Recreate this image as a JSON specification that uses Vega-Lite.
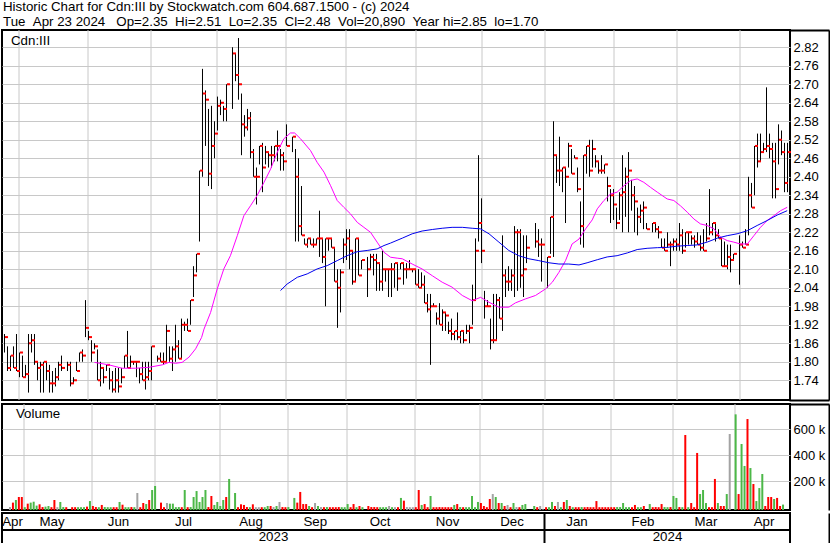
{
  "$schema": "https://vega.github.io/schema/vega-lite/v6.json",
  "background": "white",
  "padding": 0,
  "spacing": 0,
  "title": {
    "text": ["Historic Chart for Cdn:III by Stockwatch.com 604.687.1500 - (c) 2024", "Tue\u00a0\u00a0Apr 23 2024\u00a0\u00a0\u00a0Op=2.35\u00a0\u00a0Hi=2.51\u00a0\u00a0Lo=2.35\u00a0\u00a0Cl=2.48\u00a0\u00a0Vol=20,890\u00a0\u00a0Year hi=2.85\u00a0\u00a0lo=1.70"],
    "anchor": "start",
    "frame": "bounds",
    "font": "Liberation Sans",
    "fontSize": 13.3,
    "fontWeight": "normal",
    "color": "black",
    "lineHeight": 14.5,
    "offset": 0,
    "dx": 3
  },
  "config": {
    "font": "Liberation Sans",
    "view": {"stroke": "black", "strokeWidth": 2},
    "axis": {"labelFont": "Liberation Sans", "labelFontSize": 13.3, "labelColor": "black", "gridColor": "#c8c8c8", "gridOpacity": 1, "ticks": false, "tickSize": 0, "domain": false, "labelOverlap": false, "labelSeparation": 0},
    "text": {"font": "Liberation Sans", "fontSize": 13.3, "color": "black"},
    "concat": {"spacing": 0}
  },
  "resolve": {"scale": {"color": "independent"}},
  "datasets": {
    "px": [
      {"w":0,"h":1.89,"l":1.83,"c":1.88,"v":2000,"k":"n"},
      {"w":1,"h":1.85,"l":1.77,"c":1.78,"v":36000,"k":"d"},
      {"w":2,"h":1.82,"l":1.77,"c":1.82,"v":56000,"k":"u"},
      {"w":3,"h":1.85,"l":1.78,"c":1.78,"v":79000,"k":"d"},
      {"w":4,"h":1.89,"l":1.77,"c":1.77,"v":79000,"k":"d"},
      {"w":5,"h":1.83,"l":1.75,"c":1.83,"v":1000,"k":"u"},
      {"w":6,"h":1.82,"l":1.75,"c":1.75,"v":28000,"k":"d"},
      {"w":7,"h":1.79,"l":1.75,"c":1.76,"v":36000,"k":"u"},
      {"w":8,"h":1.89,"l":1.70,"c":1.86,"v":43000,"k":"u"},
      {"w":9,"h":1.89,"l":1.83,"c":1.87,"v":13000,"k":"u"},
      {"w":10,"h":1.89,"l":1.79,"c":1.80,"v":23000,"k":"d"},
      {"w":11,"h":1.80,"l":1.74,"c":1.78,"v":2000,"k":"d"},
      {"w":12,"h":1.80,"l":1.70,"c":1.79,"v":5000,"k":"u"},
      {"w":13,"h":1.80,"l":1.70,"c":1.80,"v":10000,"k":"u"},
      {"w":14,"h":1.80,"l":1.74,"c":1.77,"v":1000,"k":"d"},
      {"w":15,"h":1.79,"l":1.70,"c":1.73,"v":56000,"k":"d"},
      {"w":16,"h":1.77,"l":1.70,"c":1.73,"v":1000,"k":"n"},
      {"w":17,"h":1.78,"l":1.72,"c":1.75,"v":41000,"k":"u"},
      {"w":18,"h":1.80,"l":1.74,"c":1.79,"v":2000,"k":"u"},
      {"w":19,"h":1.82,"l":1.77,"c":1.78,"v":1000,"k":"d"},
      {"w":21,"h":1.80,"l":1.77,"c":1.79,"v":1000,"k":"d"},
      {"w":22,"h":1.80,"l":1.72,"c":1.73,"v":1000,"k":"d"},
      {"w":23,"h":1.75,"l":1.73,"c":1.74,"v":1000,"k":"u"},
      {"w":24,"h":1.80,"l":1.77,"c":1.77,"v":1000,"k":"u"},
      {"w":25,"h":1.83,"l":1.80,"c":1.83,"v":1000,"k":"u"},
      {"w":26,"h":1.84,"l":1.80,"c":1.82,"v":5000,"k":"d"},
      {"w":27,"h":2.00,"l":1.88,"c":1.91,"v":48000,"k":"u"},
      {"w":28,"h":1.90,"l":1.87,"c":1.88,"v":10000,"k":"d"},
      {"w":29,"h":1.87,"l":1.80,"c":1.83,"v":2000,"k":"d"},
      {"w":30,"h":1.86,"l":1.84,"c":1.85,"v":1000,"k":"u"},
      {"w":31,"h":1.84,"l":1.74,"c":1.74,"v":18000,"k":"d"},
      {"w":32,"h":1.80,"l":1.72,"c":1.78,"v":2000,"k":"u"},
      {"w":33,"h":1.78,"l":1.73,"c":1.75,"v":1000,"k":"u"},
      {"w":34,"h":1.79,"l":1.77,"c":1.79,"v":1000,"k":"u"},
      {"w":35,"h":1.78,"l":1.71,"c":1.74,"v":1000,"k":"d"},
      {"w":36,"h":1.77,"l":1.70,"c":1.71,"v":1000,"k":"d"},
      {"w":37,"h":1.78,"l":1.70,"c":1.74,"v":41000,"k":"u"},
      {"w":38,"h":1.78,"l":1.70,"c":1.72,"v":20000,"k":"d"},
      {"w":39,"h":1.78,"l":1.73,"c":1.75,"v":1000,"k":"u"},
      {"w":40,"h":1.82,"l":1.78,"c":1.82,"v":1000,"k":"u"},
      {"w":41,"h":1.90,"l":1.78,"c":1.78,"v":2000,"k":"d"},
      {"w":42,"h":1.82,"l":1.78,"c":1.80,"v":1000,"k":"u"},
      {"w":43,"h":1.80,"l":1.79,"c":1.80,"v":110000,"k":"n"},
      {"w":44,"h":1.80,"l":1.75,"c":1.80,"v":1000,"k":"d"},
      {"w":45,"h":1.78,"l":1.73,"c":1.76,"v":33000,"k":"d"},
      {"w":46,"h":1.80,"l":1.74,"c":1.74,"v":25000,"k":"u"},
      {"w":47,"h":1.80,"l":1.71,"c":1.75,"v":56000,"k":"d"},
      {"w":48,"h":1.80,"l":1.74,"c":1.77,"v":133000,"k":"u"},
      {"w":49,"h":1.85,"l":1.74,"c":1.85,"v":164000,"k":"u"},
      {"w":51,"h":1.82,"l":1.80,"c":1.81,"v":36000,"k":"d"},
      {"w":52,"h":1.83,"l":1.80,"c":1.80,"v":1000,"k":"d"},
      {"w":53,"h":1.83,"l":1.79,"c":1.80,"v":33000,"k":"n"},
      {"w":54,"h":1.92,"l":1.80,"c":1.90,"v":28000,"k":"u"},
      {"w":55,"h":1.85,"l":1.80,"c":1.81,"v":28000,"k":"u"},
      {"w":56,"h":1.85,"l":1.77,"c":1.84,"v":1000,"k":"u"},
      {"w":57,"h":1.92,"l":1.80,"c":1.85,"v":2000,"k":"u"},
      {"w":58,"h":1.87,"l":1.81,"c":1.81,"v":1000,"k":"d"},
      {"w":59,"h":1.94,"l":1.81,"c":1.92,"v":133000,"k":"u"},
      {"w":60,"h":1.93,"l":1.90,"c":1.92,"v":1000,"k":"d"},
      {"w":61,"h":1.94,"l":1.90,"c":1.90,"v":2000,"k":"u"},
      {"w":62,"h":2.00,"l":1.92,"c":2.00,"v":79000,"k":"u"},
      {"w":63,"h":2.11,"l":2.01,"c":2.08,"v":125000,"k":"u"},
      {"w":64,"h":2.15,"l":2.09,"c":2.15,"v":41000,"k":"u"},
      {"w":65,"h":2.42,"l":2.19,"c":2.42,"v":79000,"k":"u"},
      {"w":66,"h":2.75,"l":2.40,"c":2.67,"v":133000,"k":"u"},
      {"w":67,"h":2.68,"l":2.50,"c":2.65,"v":2000,"k":"d"},
      {"w":68,"h":2.62,"l":2.37,"c":2.41,"v":87000,"k":"d"},
      {"w":69,"h":2.63,"l":2.36,"c":2.50,"v":18000,"k":"u"},
      {"w":70,"h":2.58,"l":2.46,"c":2.54,"v":41000,"k":"u"},
      {"w":71,"h":2.66,"l":2.55,"c":2.63,"v":10000,"k":"u"},
      {"w":72,"h":2.65,"l":2.60,"c":2.64,"v":56000,"k":"u"},
      {"w":73,"h":2.63,"l":2.58,"c":2.62,"v":79000,"k":"d"},
      {"w":74,"h":2.70,"l":2.58,"c":2.70,"v":218000,"k":"u"},
      {"w":76,"h":2.82,"l":2.62,"c":2.80,"v":110000,"k":"u"},
      {"w":77,"h":2.80,"l":2.71,"c":2.73,"v":1000,"k":"d"},
      {"w":78,"h":2.85,"l":2.65,"c":2.70,"v":23000,"k":"d"},
      {"w":79,"h":2.67,"l":2.47,"c":2.57,"v":18000,"k":"d"},
      {"w":80,"h":2.60,"l":2.53,"c":2.56,"v":2000,"k":"d"},
      {"w":81,"h":2.62,"l":2.55,"c":2.59,"v":1000,"k":"u"},
      {"w":82,"h":2.61,"l":2.46,"c":2.48,"v":23000,"k":"d"},
      {"w":83,"h":2.49,"l":2.40,"c":2.40,"v":1000,"k":"n"},
      {"w":84,"h":2.43,"l":2.31,"c":2.40,"v":1000,"k":"n"},
      {"w":85,"h":2.50,"l":2.44,"c":2.50,"v":1000,"k":"d"},
      {"w":86,"h":2.51,"l":2.35,"c":2.43,"v":1000,"k":"u"},
      {"w":87,"h":2.50,"l":2.44,"c":2.48,"v":10000,"k":"u"},
      {"w":88,"h":2.48,"l":2.43,"c":2.47,"v":10000,"k":"d"},
      {"w":89,"h":2.50,"l":2.43,"c":2.47,"v":2000,"k":"n"},
      {"w":90,"h":2.50,"l":2.45,"c":2.50,"v":10000,"k":"u"},
      {"w":91,"h":2.55,"l":2.45,"c":2.50,"v":41000,"k":"n"},
      {"w":92,"h":2.49,"l":2.42,"c":2.47,"v":2000,"k":"d"},
      {"w":93,"h":2.48,"l":2.42,"c":2.45,"v":1000,"k":"d"},
      {"w":94,"h":2.57,"l":2.50,"c":2.50,"v":2000,"k":"u"},
      {"w":96,"h":2.53,"l":2.48,"c":2.53,"v":72000,"k":"u"},
      {"w":97,"h":2.49,"l":2.19,"c":2.40,"v":36000,"k":"d"},
      {"w":98,"h":2.46,"l":2.19,"c":2.24,"v":118000,"k":"d"},
      {"w":99,"h":2.37,"l":2.21,"c":2.21,"v":25000,"k":"d"},
      {"w":100,"h":2.20,"l":2.18,"c":2.18,"v":25000,"k":"d"},
      {"w":101,"h":2.20,"l":2.17,"c":2.20,"v":10000,"k":"u"},
      {"w":102,"h":2.20,"l":2.18,"c":2.18,"v":1000,"k":"d"},
      {"w":103,"h":2.20,"l":2.17,"c":2.18,"v":33000,"k":"n"},
      {"w":104,"h":2.20,"l":2.18,"c":2.20,"v":10000,"k":"u"},
      {"w":105,"h":2.29,"l":2.14,"c":2.20,"v":2000,"k":"n"},
      {"w":106,"h":2.20,"l":2.12,"c":2.14,"v":1000,"k":"d"},
      {"w":107,"h":2.20,"l":1.98,"c":2.20,"v":2000,"k":"u"},
      {"w":108,"h":2.20,"l":2.16,"c":2.20,"v":1000,"k":"d"},
      {"w":109,"h":2.20,"l":2.17,"c":2.17,"v":1000,"k":"d"},
      {"w":110,"h":2.17,"l":2.06,"c":2.06,"v":1000,"k":"d"},
      {"w":111,"h":2.10,"l":1.91,"c":2.04,"v":2000,"k":"d"},
      {"w":112,"h":2.10,"l":1.96,"c":2.09,"v":1000,"k":"u"},
      {"w":113,"h":2.20,"l":2.12,"c":2.18,"v":1000,"k":"u"},
      {"w":114,"h":2.23,"l":2.13,"c":2.20,"v":25000,"k":"u"},
      {"w":115,"h":2.23,"l":2.10,"c":2.16,"v":1000,"k":"d"},
      {"w":116,"h":2.16,"l":2.05,"c":2.06,"v":25000,"k":"d"},
      {"w":117,"h":2.20,"l":2.06,"c":2.20,"v":1000,"k":"u"},
      {"w":118,"h":2.20,"l":2.08,"c":2.08,"v":10000,"k":"d"},
      {"w":119,"h":2.13,"l":2.10,"c":2.13,"v":1000,"k":"u"},
      {"w":121,"h":2.14,"l":2.01,"c":2.10,"v":10000,"k":"d"},
      {"w":122,"h":2.15,"l":2.10,"c":2.14,"v":2000,"k":"d"},
      {"w":123,"h":2.15,"l":2.08,"c":2.13,"v":2000,"k":"d"},
      {"w":124,"h":2.15,"l":2.03,"c":2.12,"v":1000,"k":"d"},
      {"w":125,"h":2.12,"l":2.03,"c":2.06,"v":1000,"k":"u"},
      {"w":126,"h":2.16,"l":2.03,"c":2.10,"v":1000,"k":"u"},
      {"w":127,"h":2.10,"l":2.06,"c":2.10,"v":1000,"k":"u"},
      {"w":128,"h":2.10,"l":2.01,"c":2.10,"v":10000,"k":"n"},
      {"w":129,"h":2.12,"l":2.01,"c":2.10,"v":1000,"k":"u"},
      {"w":130,"h":2.12,"l":2.04,"c":2.12,"v":1000,"k":"n"},
      {"w":131,"h":2.12,"l":2.03,"c":2.07,"v":1000,"k":"d"},
      {"w":132,"h":2.12,"l":2.10,"c":2.12,"v":72000,"k":"u"},
      {"w":133,"h":2.12,"l":2.05,"c":2.10,"v":51000,"k":"d"},
      {"w":134,"h":2.12,"l":2.07,"c":2.10,"v":2000,"k":"n"},
      {"w":135,"h":2.13,"l":2.10,"c":2.10,"v":1000,"k":"n"},
      {"w":136,"h":2.10,"l":2.09,"c":2.10,"v":1000,"k":"n"},
      {"w":137,"h":2.10,"l":2.05,"c":2.05,"v":1000,"k":"d"},
      {"w":138,"h":2.10,"l":2.04,"c":2.04,"v":133000,"k":"d"},
      {"w":139,"h":2.09,"l":2.04,"c":2.05,"v":18000,"k":"u"},
      {"w":140,"h":2.08,"l":1.99,"c":1.99,"v":25000,"k":"d"},
      {"w":141,"h":2.02,"l":1.96,"c":1.97,"v":1000,"k":"d"},
      {"w":142,"h":2.02,"l":1.79,"c":1.98,"v":87000,"k":"u"},
      {"w":143,"h":1.99,"l":1.98,"c":1.98,"v":1000,"k":"d"},
      {"w":144,"h":1.96,"l":1.92,"c":1.94,"v":1000,"k":"d"},
      {"w":145,"h":1.99,"l":1.92,"c":1.92,"v":2000,"k":"d"},
      {"w":146,"h":1.97,"l":1.90,"c":1.96,"v":1000,"k":"d"},
      {"w":147,"h":1.96,"l":1.90,"c":1.95,"v":1000,"k":"d"},
      {"w":148,"h":1.93,"l":1.89,"c":1.90,"v":1000,"k":"d"},
      {"w":149,"h":1.94,"l":1.87,"c":1.89,"v":1000,"k":"d"},
      {"w":150,"h":1.90,"l":1.87,"c":1.90,"v":18000,"k":"u"},
      {"w":151,"h":1.96,"l":1.87,"c":1.88,"v":25000,"k":"d"},
      {"w":152,"h":1.90,"l":1.86,"c":1.90,"v":2000,"k":"u"},
      {"w":153,"h":1.90,"l":1.86,"c":1.87,"v":1000,"k":"d"},
      {"w":154,"h":1.92,"l":1.89,"c":1.90,"v":1000,"k":"u"},
      {"w":155,"h":1.92,"l":1.86,"c":1.91,"v":1000,"k":"u"},
      {"w":156,"h":2.05,"l":1.92,"c":2.00,"v":87000,"k":"u"},
      {"w":157,"h":2.20,"l":2.00,"c":2.16,"v":1000,"k":"u"},
      {"w":158,"h":2.47,"l":2.19,"c":2.25,"v":41000,"k":"u"},
      {"w":159,"h":2.33,"l":2.12,"c":2.16,"v":33000,"k":"d"},
      {"w":160,"h":2.03,"l":1.94,"c":1.98,"v":10000,"k":"d"},
      {"w":161,"h":2.00,"l":1.98,"c":1.98,"v":1000,"k":"d"},
      {"w":162,"h":1.94,"l":1.84,"c":1.87,"v":64000,"k":"d"},
      {"w":163,"h":2.02,"l":1.86,"c":1.87,"v":102000,"k":"n"},
      {"w":164,"h":2.02,"l":1.87,"c":2.00,"v":79000,"k":"u"},
      {"w":165,"h":2.01,"l":1.94,"c":1.94,"v":33000,"k":"d"},
      {"w":166,"h":2.21,"l":1.90,"c":2.08,"v":33000,"k":"u"},
      {"w":167,"h":2.10,"l":2.01,"c":2.06,"v":10000,"k":"d"},
      {"w":168,"h":2.11,"l":2.03,"c":2.06,"v":18000,"k":"n"},
      {"w":169,"h":2.10,"l":2.03,"c":2.08,"v":1000,"k":"d"},
      {"w":170,"h":2.24,"l":2.01,"c":2.22,"v":33000,"k":"u"},
      {"w":171,"h":2.23,"l":2.03,"c":2.22,"v":2000,"k":"n"},
      {"w":172,"h":2.23,"l":2.04,"c":2.08,"v":1000,"k":"d"},
      {"w":173,"h":2.21,"l":2.01,"c":2.10,"v":18000,"k":"u"},
      {"w":174,"h":2.21,"l":2.12,"c":2.17,"v":25000,"k":"u"},
      {"w":177,"h":2.25,"l":2.17,"c":2.19,"v":10000,"k":"u"},
      {"w":178,"h":2.23,"l":2.14,"c":2.18,"v":1000,"k":"d"},
      {"w":179,"h":2.20,"l":2.06,"c":2.18,"v":10000,"k":"n"},
      {"w":181,"h":2.14,"l":2.04,"c":2.14,"v":1000,"k":"d"},
      {"w":182,"h":2.27,"l":2.15,"c":2.27,"v":1000,"k":"u"},
      {"w":183,"h":2.58,"l":2.14,"c":2.47,"v":41000,"k":"u"},
      {"w":184,"h":2.47,"l":2.38,"c":2.42,"v":10000,"k":"d"},
      {"w":185,"h":2.53,"l":2.37,"c":2.42,"v":41000,"k":"n"},
      {"w":186,"h":2.43,"l":2.35,"c":2.43,"v":1000,"k":"u"},
      {"w":187,"h":2.43,"l":2.25,"c":2.40,"v":41000,"k":"d"},
      {"w":188,"h":2.51,"l":2.43,"c":2.50,"v":56000,"k":"u"},
      {"w":189,"h":2.49,"l":2.41,"c":2.41,"v":10000,"k":"d"},
      {"w":190,"h":2.47,"l":2.46,"c":2.46,"v":1000,"k":"u"},
      {"w":191,"h":2.43,"l":2.35,"c":2.36,"v":1000,"k":"d"},
      {"w":192,"h":2.32,"l":2.18,"c":2.24,"v":1000,"k":"d"},
      {"w":193,"h":2.47,"l":2.17,"c":2.47,"v":2000,"k":"u"},
      {"w":194,"h":2.50,"l":2.41,"c":2.50,"v":1000,"k":"d"},
      {"w":195,"h":2.52,"l":2.40,"c":2.42,"v":2000,"k":"d"},
      {"w":196,"h":2.52,"l":2.43,"c":2.49,"v":1000,"k":"d"},
      {"w":197,"h":2.47,"l":2.43,"c":2.45,"v":1000,"k":"d"},
      {"w":198,"h":2.45,"l":2.41,"c":2.42,"v":48000,"k":"d"},
      {"w":199,"h":2.47,"l":2.41,"c":2.42,"v":1000,"k":"d"},
      {"w":200,"h":2.44,"l":2.41,"c":2.44,"v":1000,"k":"d"},
      {"w":201,"h":2.40,"l":2.32,"c":2.37,"v":1000,"k":"d"},
      {"w":202,"h":2.36,"l":2.25,"c":2.34,"v":1000,"k":"d"},
      {"w":203,"h":2.36,"l":2.26,"c":2.31,"v":1000,"k":"d"},
      {"w":204,"h":2.30,"l":2.23,"c":2.25,"v":1000,"k":"d"},
      {"w":205,"h":2.35,"l":2.26,"c":2.34,"v":2000,"k":"u"},
      {"w":206,"h":2.47,"l":2.22,"c":2.35,"v":2000,"k":"u"},
      {"w":207,"h":2.43,"l":2.27,"c":2.40,"v":33000,"k":"u"},
      {"w":208,"h":2.48,"l":2.22,"c":2.42,"v":1000,"k":"u"},
      {"w":209,"h":2.39,"l":2.29,"c":2.34,"v":1000,"k":"u"},
      {"w":210,"h":2.37,"l":2.22,"c":2.32,"v":1000,"k":"d"},
      {"w":211,"h":2.30,"l":2.21,"c":2.27,"v":18000,"k":"d"},
      {"w":212,"h":2.31,"l":2.25,"c":2.29,"v":1000,"k":"u"},
      {"w":213,"h":2.32,"l":2.23,"c":2.30,"v":1000,"k":"u"},
      {"w":214,"h":2.25,"l":2.23,"c":2.23,"v":10000,"k":"d"},
      {"w":216,"h":2.25,"l":2.22,"c":2.25,"v":25000,"k":"u"},
      {"w":217,"h":2.25,"l":2.22,"c":2.23,"v":1000,"k":"d"},
      {"w":218,"h":2.24,"l":2.20,"c":2.22,"v":2000,"k":"d"},
      {"w":219,"h":2.20,"l":2.17,"c":2.17,"v":1000,"k":"d"},
      {"w":220,"h":2.20,"l":2.16,"c":2.16,"v":25000,"k":"d"},
      {"w":221,"h":2.22,"l":2.17,"c":2.18,"v":2000,"k":"u"},
      {"w":222,"h":2.19,"l":2.11,"c":2.18,"v":1000,"k":"u"},
      {"w":223,"h":2.20,"l":2.16,"c":2.19,"v":2000,"k":"d"},
      {"w":224,"h":2.20,"l":2.16,"c":2.18,"v":87000,"k":"u"},
      {"w":225,"h":2.25,"l":2.16,"c":2.21,"v":72000,"k":"u"},
      {"w":226,"h":2.23,"l":2.15,"c":2.16,"v":2000,"k":"d"},
      {"w":227,"h":2.22,"l":2.17,"c":2.22,"v":1000,"k":"u"},
      {"w":228,"h":2.22,"l":2.18,"c":2.22,"v":556000,"k":"d"},
      {"w":229,"h":2.21,"l":2.18,"c":2.20,"v":1000,"k":"u"},
      {"w":230,"h":2.21,"l":2.17,"c":2.19,"v":33000,"k":"d"},
      {"w":231,"h":2.22,"l":2.18,"c":2.18,"v":1000,"k":"d"},
      {"w":232,"h":2.21,"l":2.16,"c":2.17,"v":418000,"k":"d"},
      {"w":233,"h":2.23,"l":2.16,"c":2.16,"v":102000,"k":"u"},
      {"w":234,"h":2.25,"l":2.19,"c":2.20,"v":133000,"k":"u"},
      {"w":235,"h":2.36,"l":2.21,"c":2.22,"v":33000,"k":"u"},
      {"w":236,"h":2.25,"l":2.21,"c":2.25,"v":1000,"k":"d"},
      {"w":237,"h":2.25,"l":2.19,"c":2.21,"v":1000,"k":"d"},
      {"w":238,"h":2.23,"l":2.20,"c":2.20,"v":218000,"k":"d"},
      {"w":239,"h":2.20,"l":2.11,"c":2.11,"v":33000,"k":"u"},
      {"w":240,"h":2.19,"l":2.11,"c":2.11,"v":10000,"k":"d"},
      {"w":241,"h":2.18,"l":2.10,"c":2.14,"v":10000,"k":"d"},
      {"w":242,"h":2.18,"l":2.09,"c":2.13,"v":102000,"k":"u"},
      {"w":243,"h":2.15,"l":2.13,"c":2.15,"v":564000,"k":"n"},
      {"w":245,"h":2.21,"l":2.05,"c":2.18,"v":715000,"k":"u"},
      {"w":246,"h":2.19,"l":2.17,"c":2.17,"v":102000,"k":"d"},
      {"w":247,"h":2.23,"l":2.18,"c":2.18,"v":487000,"k":"u"},
      {"w":248,"h":2.40,"l":2.21,"c":2.34,"v":318000,"k":"u"},
      {"w":249,"h":2.38,"l":2.30,"c":2.30,"v":679000,"k":"d"},
      {"w":250,"h":2.50,"l":2.34,"c":2.50,"v":302000,"k":"u"},
      {"w":251,"h":2.54,"l":2.43,"c":2.45,"v":179000,"k":"d"},
      {"w":252,"h":2.54,"l":2.45,"c":2.48,"v":48000,"k":"u"},
      {"w":253,"h":2.51,"l":2.48,"c":2.49,"v":148000,"k":"u"},
      {"w":254,"h":2.69,"l":2.48,"c":2.50,"v":256000,"k":"u"},
      {"w":255,"h":2.54,"l":2.46,"c":2.49,"v":10000,"k":"d"},
      {"w":256,"h":2.51,"l":2.33,"c":2.45,"v":79000,"k":"d"},
      {"w":257,"h":2.51,"l":2.33,"c":2.36,"v":79000,"k":"d"},
      {"w":258,"h":2.57,"l":2.44,"c":2.52,"v":64000,"k":"u"},
      {"w":259,"h":2.55,"l":2.47,"c":2.48,"v":72000,"k":"d"},
      {"w":260,"h":2.51,"l":2.35,"c":2.38,"v":10000,"k":"d"},
      {"w":261,"h":2.51,"l":2.35,"c":2.48,"v":20890,"k":"u"}
    ],
    "ma1": [
      {"w":30.0,"p":1.798},{"w":34.8,"p":1.790},{"w":39.2,"p":1.779},{"w":43.7,"p":1.779},{"w":48.1,"p":1.782},
      {"w":52.6,"p":1.790},{"w":54.8,"p":1.798},{"w":57.0,"p":1.795},{"w":59.2,"p":1.798},{"w":61.5,"p":1.815},
      {"w":63.7,"p":1.842},{"w":65.7,"p":1.879},{"w":66.5,"p":1.906},{"w":68.7,"p":1.960},{"w":70.9,"p":2.036},
      {"w":73.1,"p":2.101},{"w":75.3,"p":2.144},{"w":77.6,"p":2.209},{"w":79.8,"p":2.274},{"w":82.0,"p":2.306},
      {"w":84.2,"p":2.339},{"w":86.5,"p":2.382},{"w":88.7,"p":2.425},{"w":90.9,"p":2.479},{"w":93.1,"p":2.523},
      {"w":95.3,"p":2.542},{"w":96.7,"p":2.542},{"w":98.7,"p":2.523},{"w":102.0,"p":2.485},{"w":104.2,"p":2.447},
      {"w":106.5,"p":2.415},{"w":108.7,"p":2.371},{"w":110.9,"p":2.323},{"w":113.1,"p":2.301},{"w":115.3,"p":2.280},
      {"w":117.6,"p":2.252},{"w":119.8,"p":2.236},{"w":122.0,"p":2.220},{"w":124.2,"p":2.188},{"w":126.5,"p":2.155},
      {"w":128.7,"p":2.139},{"w":130.9,"p":2.136},{"w":132.6,"p":2.134},{"w":135.9,"p":2.117},{"w":139.2,"p":2.101},
      {"w":142.6,"p":2.079},{"w":145.9,"p":2.058},{"w":149.2,"p":2.042},{"w":152.6,"p":2.015},{"w":155.9,"p":1.998},
      {"w":158.7,"p":2.009},{"w":161.5,"p":1.993},{"w":164.8,"p":1.977},{"w":168.1,"p":1.977},{"w":170.3,"p":1.991},
      {"w":173.7,"p":2.004},{"w":177.0,"p":2.015},{"w":180.3,"p":2.036},{"w":182.6,"p":2.058},{"w":184.8,"p":2.090},
      {"w":187.0,"p":2.128},{"w":189.2,"p":2.182},{"w":191.5,"p":2.198},{"w":193.7,"p":2.231},{"w":195.9,"p":2.260},
      {"w":197.6,"p":2.296},{"w":199.8,"p":2.323},{"w":202.0,"p":2.344},{"w":204.2,"p":2.350},{"w":206.5,"p":2.371},
      {"w":208.7,"p":2.388},{"w":210.9,"p":2.393},{"w":213.1,"p":2.382},{"w":215.3,"p":2.366},{"w":217.6,"p":2.350},
      {"w":220.9,"p":2.328},{"w":223.1,"p":2.323},{"w":225.3,"p":2.306},{"w":227.6,"p":2.285},{"w":229.8,"p":2.263},
      {"w":232.0,"p":2.247},{"w":234.2,"p":2.242},{"w":236.5,"p":2.231},{"w":238.7,"p":2.204},{"w":240.9,"p":2.193},
      {"w":243.1,"p":2.188},{"w":245.3,"p":2.182},{"w":247.6,"p":2.182},{"w":249.8,"p":2.209},{"w":252.0,"p":2.236},
      {"w":254.2,"p":2.258},{"w":256.5,"p":2.274},{"w":258.7,"p":2.290},{"w":260.9,"p":2.301}
    ],
    "ma2": [
      {"w":92.0,"p":2.031},{"w":94.2,"p":2.052},{"w":97.6,"p":2.074},{"w":100.9,"p":2.085},{"w":104.2,"p":2.101},
      {"w":107.6,"p":2.112},{"w":110.9,"p":2.128},{"w":114.2,"p":2.144},{"w":117.6,"p":2.157},{"w":120.9,"p":2.161},
      {"w":124.2,"p":2.166},{"w":126.5,"p":2.177},{"w":128.7,"p":2.185},{"w":132.6,"p":2.201},{"w":135.9,"p":2.215},
      {"w":139.2,"p":2.224},{"w":142.6,"p":2.229},{"w":145.9,"p":2.233},{"w":149.2,"p":2.236},{"w":152.6,"p":2.236},
      {"w":155.9,"p":2.233},{"w":158.7,"p":2.231},{"w":161.5,"p":2.215},{"w":164.8,"p":2.188},{"w":168.1,"p":2.161},
      {"w":171.4,"p":2.144},{"w":174.8,"p":2.134},{"w":178.1,"p":2.128},{"w":181.5,"p":2.121},{"w":184.8,"p":2.117},
      {"w":188.1,"p":2.117},{"w":191.5,"p":2.114},{"w":194.2,"p":2.121},{"w":197.6,"p":2.131},{"w":200.9,"p":2.140},
      {"w":204.2,"p":2.144},{"w":207.6,"p":2.153},{"w":210.9,"p":2.164},{"w":214.2,"p":2.168},{"w":217.6,"p":2.170},
      {"w":220.9,"p":2.171},{"w":224.2,"p":2.175},{"w":227.6,"p":2.177},{"w":230.9,"p":2.179},{"w":234.2,"p":2.188},
      {"w":237.6,"p":2.201},{"w":240.9,"p":2.209},{"w":244.2,"p":2.215},{"w":247.6,"p":2.225},{"w":250.9,"p":2.242},
      {"w":254.2,"p":2.258},{"w":257.6,"p":2.276},{"w":260.9,"p":2.290}
    ],
    "mon": [
      {"w":2.67,"m":"Apr"},{"w":15.83,"m":"May"},{"w":38,"m":"Jun"},{"w":59.67,"m":"Jul"},{"w":82.17,"m":"Aug"},
      {"w":103.6,"m":"Sep"},{"w":125.17,"m":"Oct"},{"w":147.67,"m":"Nov"},{"w":169.17,"m":"Dec"},{"w":190.83,"m":"Jan"},
      {"w":212.83,"m":"Feb"},{"w":233.83,"m":"Mar"},{"w":253.17,"m":"Apr"}
    ],
    "yr": [{"w":89.67,"t":"2023"},{"w":221,"t":"2024"}]
  },
  "vconcat": [
    {
      "width": 788,
      "height": 370,
      "layer": [
        {
          "layer": [
            {
              "data": {"name": "px"},
              "mark": {"type": "rule", "color": "black", "strokeWidth": 1},
              "encoding": {
                "x": {"field": "w", "type": "quantitative", "scale": {"domain": [-0.8333, 261.8333], "nice": false, "zero": false},
                      "axis": {"values": [5,28,49,71,94,114,137,159,180,203,224,245], "labels": false, "ticks": false, "domain": false, "grid": true, "translate": 0, "minExtent": 0, "maxExtent": 0, "title": null}},
                "y": {"field": "h", "type": "quantitative", "scale": {"domain": [1.676, 2.876], "nice": false, "zero": false},
                      "axis": {"orient": "right", "values": [1.74,1.8,1.86,1.92,1.98,2.04,2.1,2.16,2.22,2.28,2.34,2.4,2.46,2.52,2.58,2.64,2.7,2.76,2.82], "tickCount": 40, "format": ".2f", "grid": true, "labelPadding": 3, "labelOverlap": false, "labelSeparation": 0, "labelFontSize": 13, "title": null}},
                "y2": {"field": "l"}
              }
            },
            {
              "data": {"name": "px"},
              "mark": {"type": "tick", "orient": "horizontal", "color": "#ff0000", "size": 3, "thickness": 2, "xOffset": 2, "opacity": 1},
              "encoding": {
                "x": {"field": "w", "type": "quantitative"},
                "y": {"field": "c", "type": "quantitative"}
              }
            },
            {
              "data": {"name": "ma1"},
              "mark": {"type": "line", "color": "#ff00ff", "strokeWidth": 1},
              "encoding": {
                "x": {"field": "w", "type": "quantitative"},
                "y": {"field": "p", "type": "quantitative"}
              }
            },
            {
              "data": {"name": "ma2"},
              "mark": {"type": "line", "color": "#0000ee", "strokeWidth": 1},
              "encoding": {
                "x": {"field": "w", "type": "quantitative"},
                "y": {"field": "p", "type": "quantitative"}
              }
            }
          ]
        },
        {
          "data": {"values": [{"t": "Cdn:III"}]},
          "mark": {"type": "text", "align": "left", "baseline": "middle", "fontSize": 13.3, "color": "black"},
          "encoding": {
            "x": {"datum": 2.17, "type": "quantitative"},
            "y": {"datum": 2.84, "type": "quantitative", "scale": {"domain": [1.676, 2.876], "nice": false, "zero": false},
                  "axis": {"orient": "right", "offset": 39, "labels": false, "ticks": true, "values": [1.676, 2.876], "tickSize": -40, "tickWidth": 2, "tickColor": "black", "grid": false, "domain": true, "domainColor": "black", "domainWidth": 2, "title": null}},
            "text": {"field": "t"}
          }
        }
      ],
      "resolve": {"scale": {"y": "independent"}, "axis": {"y": "independent"}}
    },
    {
      "width": 788,
      "height": 106,
      "layer": [
        {
          "layer": [
            {
              "data": {"name": "px"},
              "mark": {"type": "bar", "width": 2, "xOffset": 0.5},
              "encoding": {
                "x": {"field": "w", "type": "quantitative", "scale": {"domain": [-0.8333, 261.8333], "nice": false, "zero": false},
                      "axis": {"values": [5,28,49,71,94,114,137,159,180,203,224,245], "labels": false, "ticks": false, "domain": false, "grid": true, "translate": 0, "minExtent": 0, "maxExtent": 0, "title": null}},
                "y": {"field": "v", "type": "quantitative", "scale": {"domain": [-20800, 794600], "nice": false, "zero": false},
                      "axis": {"orient": "right", "values": [200000, 400000, 600000], "labelExpr": "datum.value / 1000 + ' k'", "grid": true, "labelPadding": 3, "labelFontSize": 13, "title": null}},
                "y2": {"datum": -20800},
                "color": {"field": "k", "type": "nominal", "scale": {"domain": ["u", "d", "n"], "range": ["#4cb848", "#ff0000", "#a3a3a3"]}, "legend": null}
              }
            }
          ]
        },
        {
          "data": {"values": [{"t": "Volume"}]},
          "mark": {"type": "text", "align": "left", "baseline": "middle", "fontSize": 13.3, "color": "black"},
          "encoding": {
            "x": {"datum": 2.17, "type": "quantitative"},
            "y": {"datum": 718000, "type": "quantitative", "scale": {"domain": [-20800, 794600], "nice": false, "zero": false},
                  "axis": {"orient": "right", "offset": 39, "labels": false, "ticks": true, "values": [794600], "tickSize": -40, "tickWidth": 2, "tickColor": "black", "grid": false, "domain": true, "domainColor": "black", "domainWidth": 2, "title": null}},
            "text": {"field": "t"}
          }
        }
      ],
      "resolve": {"scale": {"y": "independent"}, "axis": {"y": "independent"}}
    },
    {
      "width": 788,
      "height": 31,
      "layer": [
        {
          "data": {"name": "mon"},
          "mark": {"type": "text", "align": "center", "baseline": "middle", "fontSize": 13.3, "color": "black"},
          "encoding": {
            "x": {"field": "w", "type": "quantitative", "scale": {"domain": [-0.8333, 261.8333], "nice": false, "zero": false}, "axis": null},
            "y": {"datum": 22.5, "type": "quantitative", "scale": {"domain": [0, 31], "nice": false, "zero": false},
                  "axis": {"orient": "right", "offset": 39, "labels": false, "ticks": true, "values": [0], "tickSize": -40, "tickWidth": 2, "tickColor": "black", "grid": false, "domain": true, "domainColor": "black", "domainWidth": 2, "title": null}},
            "text": {"field": "m"}
          }
        },
        {
          "data": {"name": "yr"},
          "mark": {"type": "text", "align": "center", "baseline": "middle", "fontSize": 13.3, "color": "black"},
          "encoding": {
            "x": {"field": "w", "type": "quantitative", "axis": null},
            "y": {"datum": 7, "type": "quantitative"},
            "text": {"field": "t"}
          }
        },
        {
          "data": {"values": [{}]},
          "mark": {"type": "rule", "color": "black", "strokeWidth": 2},
          "encoding": {"y": {"datum": 14, "type": "quantitative"}}
        },
        {
          "data": {"values": [{}]},
          "mark": {"type": "rule", "color": "black", "strokeWidth": 2},
          "encoding": {"x": {"datum": 180, "type": "quantitative"}}
        }
      ]
    }
  ]
}
